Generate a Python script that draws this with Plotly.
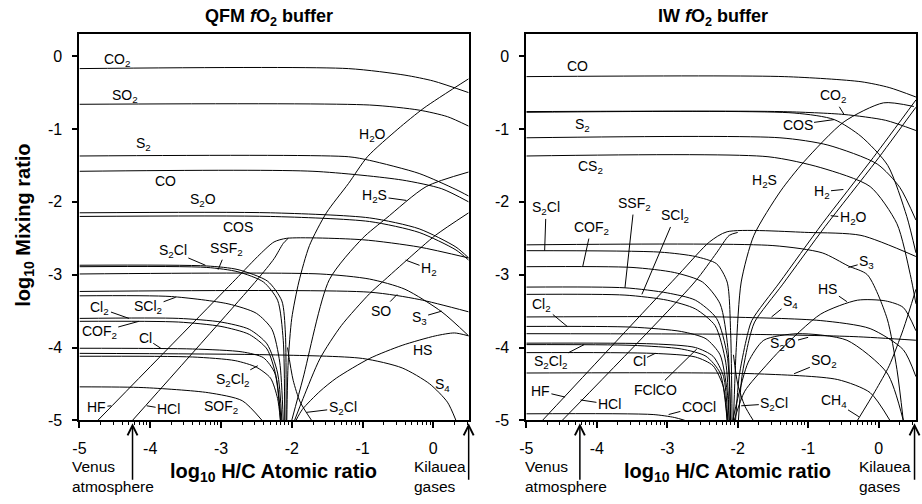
import math
import plotly.graph_objects as go

# ---------------- QFM panel curves (log10 H/C, log10 mixing ratio) ----------------
QFM_CO2 = [(-5, -0.17), (-1.2, -0.17), (-0.4, -0.26), (0, -0.34), (0.5, -0.5)]
QFM_SO2 = [(-5, -0.66), (-0.9, -0.67), (-0.2, -0.74), (0.2, -0.83), (0.5, -0.96)]
QFM_S2 = [(-5, -1.37), (-1.2, -1.38), (-0.9, -1.43), (-0.2, -1.61), (0.32, -1.83), (0.5, -1.92)]
QFM_CO = [(-5, -1.58), (-1.7, -1.58), (-0.44, -1.7), (0.12, -1.82), (0.5, -2.0)]
QFM_S2O = [(-5, -2.15), (-2.3, -2.15), (-0.9, -2.22), (-0.2, -2.37), (0.32, -2.62), (0.5, -2.77)]
QFM_COS = [(-5, -2.2), (-2.3, -2.2), (-0.9, -2.27), (-0.2, -2.42), (0.32, -2.66), (0.5, -2.8)]
QFM_HF = [(-4.74, -5), (-2.8, -3.07), (-2.45, -2.72), (-2.25, -2.55), (-2.07, -2.5), (-1.0, -2.52), (-0.2, -2.62), (0.5, -2.77)]
QFM_HCL = [(-4.25, -5), (-2.49, -3.07), (-2.25, -2.78), (-2.12, -2.57), (-2.05, -2.5)]
QFM_S3 = [(-5, -2.99), (-1.6, -2.99), (-0.9, -3.06), (-0.4, -3.2), (0.12, -3.51), (0.5, -3.84)]
QFM_SO = [(-5, -3.23), (-0.9, -3.24), (-0.2, -3.34), (0.5, -3.51)]
QFM_SCL2 = [(-5, -3.29), (-3.7, -3.3), (-2.9, -3.4), (-2.5, -3.53), (-2.28, -3.75), (-2.17, -4.2), (-2.12, -5)]
QFM_CL2 = [(-5, -3.6), (-3.6, -3.6), (-3.0, -3.65), (-2.6, -3.75), (-2.35, -3.95), (-2.2, -4.35), (-2.14, -5)]
QFM_COF2 = [(-5, -3.64), (-3.6, -3.65), (-3.0, -3.71), (-2.6, -3.82), (-2.35, -4.02), (-2.22, -4.4), (-2.15, -5)]
QFM_CL = [(-5, -4.01), (-3.4, -4.02), (-2.7, -4.06), (-2.4, -4.14), (-2.24, -4.35), (-2.16, -5)]
QFM_S4 = [(-5, -4.08), (-2.3, -4.1), (-1.0, -4.15), (-0.44, -4.28), (-0.05, -4.5), (0.2, -4.75), (0.32, -5)]
QFM_S2CL2 = [(-5, -4.12), (-3.4, -4.13), (-2.8, -4.18), (-2.5, -4.27), (-2.3, -4.42), (-2.2, -4.7), (-2.16, -5)]
QFM_SOF2 = [(-5, -4.54), (-4.1, -4.55), (-3.18, -4.62), (-2.7, -4.73), (-2.42, -5)]
QFM_S2CL = [(-5, -2.87), (-3.2, -2.88), (-2.76, -2.93), (-2.34, -3.09), (-2.14, -3.36), (-2.09, -3.8), (-2.08, -5)]
QFM_S2CL_B = [(-2.06, -4.0), (-1.98, -4.45), (-1.88, -4.75), (-1.72, -5)]
QFM_SSF2 = [(-5, -2.89), (-3.2, -2.9), (-2.76, -2.96), (-2.4, -3.1), (-2.2, -3.35), (-2.12, -3.9), (-2.1, -5)]
QFM_H2O = [(-2.07, -5), (-2.05, -4.2), (-2.0, -3.6), (-1.9, -3.1), (-1.75, -2.6), (-1.51, -2.15), (-1.2, -1.75),
           (-0.93, -1.38), (-0.5, -1.0), (-0.13, -0.71), (0.5, -0.31)]
QFM_H2S = [(-2.0, -5), (-1.84, -4.42), (-1.47, -3.07), (-1.0, -2.5), (-0.67, -2.23), (-0.1, -1.79), (0.5, -1.59)]
QFM_H2 = [(-1.96, -5), (-1.84, -4.7), (-1.6, -4.15), (-1.3, -3.7), (-0.9, -3.26), (-0.72, -3.1), (-0.34, -2.77),
          (0.03, -2.46), (0.5, -2.15)]
QFM_HS = [(-1.94, -5), (-1.85, -4.85), (-1.6, -4.6), (-1.37, -4.42), (-0.9, -4.15), (-0.44, -3.97), (0.03, -3.84),
          (0.3, -3.8), (0.5, -3.84)]

# ---------------- IW panel curves ----------------
IW_CO = [(-5, -0.28), (-1.34, -0.28), (-0.25, -0.35), (0.15, -0.43), (0.53, -0.56)]
IW_CO2 = [(-5, -0.76), (-1.4, -0.76), (-0.49, -0.8), (0.1, -0.88), (0.53, -1.02)]
IW_COS = [(-5, -0.77), (-1.2, -0.78), (-0.63, -0.87), (-0.25, -1.1), (0.13, -1.5), (0.4, -2.2), (0.53, -2.7)]
IW_S2 = [(-5, -1.12), (-1.4, -1.12), (-0.72, -1.22), (-0.02, -1.48), (0.3, -1.8), (0.53, -2.25)]
IW_CS2 = [(-5, -1.37), (-1.57, -1.38), (-0.82, -1.53), (-0.12, -1.79), (0.26, -2.3), (0.45, -3.0), (0.53, -3.4)]
IW_H2S = [(-2.06, -5), (-2.02, -4.0), (-1.95, -3.1), (-1.77, -2.46), (-1.39, -1.85), (-1.06, -1.45), (-0.49, -0.9),
          (0.07, -0.64), (0.5, -0.69)]
IW_H2 = [(-2.03, -5), (-1.98, -4.4), (-1.88, -3.9), (-1.8, -3.63), (-1.4, -3.1), (-0.8, -2.3), (-0.075, -1.39), (0.53, -0.6)]
IW_H2O = [(-1.99, -5), (-1.94, -4.4), (-1.84, -3.9), (-1.76, -3.65), (-1.36, -3.13), (-0.76, -2.34), (-0.035, -1.44), (0.53, -0.7)]
IW_HF = [(-4.77, -5), (-2.84, -3.0), (-2.4, -2.55), (-2.15, -2.41), (-1.0, -2.42), (-0.25, -2.46), (0.53, -2.75)]
IW_HCL = [(-4.49, -5), (-2.61, -3.1), (-2.3, -2.7), (-2.12, -2.46), (-2.0, -2.42)]
IW_S3 = [(-5, -2.59), (-1.5, -2.6), (-0.8, -2.7), (-0.43, -2.88), (-0.16, -3.0), (0.12, -3.6), (0.26, -4.3), (0.35, -5)]
IW_S2CL = [(-5, -2.67), (-3.1, -2.69), (-2.6, -2.75), (-2.3, -2.85), (-2.15, -3.1), (-2.1, -3.8), (-2.08, -5)]
IW_S2CL_B = [(-2.06, -4.1), (-2.0, -4.5), (-1.9, -4.8), (-1.78, -5)]
IW_COF2 = [(-5, -2.89), (-3.5, -2.9), (-2.9, -2.97), (-2.5, -3.1), (-2.25, -3.4), (-2.14, -4.0), (-2.1, -5)]
IW_SSF2 = [(-5, -3.17), (-3.6, -3.18), (-3.0, -3.25), (-2.6, -3.35), (-2.3, -3.6), (-2.15, -4.1), (-2.1, -5)]
IW_SCL2 = [(-5, -3.27), (-3.6, -3.28), (-3.0, -3.35), (-2.6, -3.47), (-2.32, -3.7), (-2.17, -4.2), (-2.12, -5)]
IW_S4 = [(-5, -3.58), (-2.23, -3.58), (-0.82, -3.63), (-0.12, -3.74), (0.35, -4.03), (0.53, -4.4)]
IW_CL2 = [(-5, -3.71), (-3.5, -3.72), (-2.8, -3.78), (-2.45, -3.88), (-2.25, -4.1), (-2.15, -4.6), (-2.12, -5)]
IW_X381 = [(-5, -3.81), (-1.76, -3.82), (-0.35, -3.85), (0.53, -3.9)]
IW_FCLCO = [(-5, -3.94), (-3.2, -3.95), (-2.6, -4.0), (-2.35, -4.12), (-2.2, -4.4), (-2.14, -5)]
IW_S2CL2 = [(-5, -3.96), (-3.5, -3.97), (-2.8, -4.02), (-2.45, -4.12), (-2.25, -4.35), (-2.15, -5)]
IW_CL = [(-5, -4.07), (-3.2, -4.08), (-2.6, -4.13), (-2.35, -4.25), (-2.2, -4.55), (-2.15, -5)]
IW_SO2 = [(-5, -4.35), (-1.76, -4.36), (-0.58, -4.44), (-0.12, -4.62), (0.16, -5)]
IW_COCL = [(-5, -4.91), (-3.2, -4.92), (-2.9, -4.96), (-2.75, -5)]
IW_HS = [(-2.05, -5), (-1.9, -4.6), (-1.6, -4.25), (-1.39, -4.03), (-0.82, -3.54), (-0.3, -3.35), (0.1, -3.36),
         (0.35, -3.45), (0.53, -3.77)]
IW_S2O = [(-2.07, -5), (-2.0, -4.7), (-1.85, -4.2), (-1.63, -3.9), (-1.15, -3.81), (-0.45, -3.9), (0.12, -4.35), (0.35, -5)]
IW_CH4 = [(-0.3, -5), (-0.05, -4.6), (0.15, -4.25), (0.35, -3.75), (0.53, -3.2)]

QFM_CURVES = [QFM_CO2, QFM_SO2, QFM_S2, QFM_CO, QFM_S2O, QFM_COS, QFM_HF, QFM_HCL, QFM_S3, QFM_SO,
              QFM_SCL2, QFM_CL2, QFM_COF2, QFM_CL, QFM_S4, QFM_S2CL2, QFM_SOF2, QFM_S2CL, QFM_S2CL_B,
              QFM_SSF2, QFM_H2O, QFM_H2S, QFM_H2, QFM_HS]
IW_CURVES = [IW_CO, IW_CO2, IW_COS, IW_S2, IW_CS2, IW_H2S, IW_H2, IW_H2O, IW_HF, IW_HCL, IW_S3, IW_S2CL,
             IW_S2CL_B, IW_COF2, IW_SSF2, IW_SCL2, IW_S4, IW_CL2, IW_X381, IW_FCLCO, IW_S2CL2, IW_CL,
             IW_SO2, IW_COCL, IW_HS, IW_S2O, IW_CH4]

# labels: (text, label x, label y, pointer target x, pointer target y)
QFM_LABELS = [
    ("CO<sub>2</sub>", -4.47, -0.05, None, None),
    ("SO<sub>2</sub>", -4.35, -0.54, None, None),
    ("S<sub>2</sub>", -4.09, -1.21, None, None),
    ("H<sub>2</sub>O", -0.86, -1.08, None, None),
    ("CO", -3.79, -1.72, None, None),
    ("S<sub>2</sub>O", -3.25, -1.98, None, None),
    ("COS", -2.76, -2.34, None, None),
    ("S<sub>2</sub>Cl", -3.68, -2.68, -3.22, -2.87),
    ("SSF<sub>2</sub>", -2.92, -2.65, -3.04, -2.93),
    ("H<sub>2</sub>S", -0.83, -1.92, -0.38, -1.98),
    ("H<sub>2</sub>", -0.06, -2.92, -0.39, -2.8),
    ("SO", -0.74, -3.5, -0.51, -3.27),
    ("S<sub>3</sub>", -0.2, -3.59, 0.12, -3.5),
    ("HS", -0.15, -4.03, None, None),
    ("S<sub>4</sub>", 0.13, -4.51, None, None),
    ("S<sub>2</sub>Cl", -1.28, -4.83, -1.79, -4.89),
    ("Cl<sub>2</sub>", -4.71, -3.46, -4.3, -3.6),
    ("SCl<sub>2</sub>", -4.03, -3.45, -3.64, -3.31),
    ("COF<sub>2</sub>", -4.72, -3.79, -4.16, -3.64),
    ("Cl", -4.07, -3.87, -3.85, -4.01),
    ("S<sub>2</sub>Cl<sub>2</sub>", -2.84, -4.44, -2.48, -4.25),
    ("HF", -4.76, -4.82, -4.55, -4.8),
    ("HCl", -3.74, -4.85, -4.05, -4.8),
    ("SOF<sub>2</sub>", -3.0, -4.81, None, None),
]
IW_LABELS = [
    ("CO", -4.27, -0.13, None, None),
    ("S<sub>2</sub>", -4.2, -0.94, None, None),
    ("CO<sub>2</sub>", -0.65, -0.55, -0.49, -0.8),
    ("COS", -1.15, -0.94, -0.63, -0.87),
    ("CS<sub>2</sub>", -4.09, -1.52, None, None),
    ("H<sub>2</sub>S", -1.62, -1.72, None, None),
    ("H<sub>2</sub>", -0.81, -1.86, -0.5, -1.83),
    ("H<sub>2</sub>O", -0.36, -2.22, -0.68, -2.19),
    ("S<sub>2</sub>Cl", -4.72, -2.09, -4.74, -2.67),
    ("COF<sub>2</sub>", -4.08, -2.36, -4.2, -2.89),
    ("SSF<sub>2</sub>", -3.47, -2.03, -3.6, -3.18),
    ("SCl<sub>2</sub>", -2.89, -2.2, -3.36, -3.27),
    ("S<sub>3</sub>", -0.17, -2.83, -0.43, -2.9),
    ("HS", -0.72, -3.19, -0.45, -3.37),
    ("S<sub>4</sub>", -1.25, -3.37, -1.52, -3.58),
    ("Cl<sub>2</sub>", -4.78, -3.42, -4.42, -3.71),
    ("S<sub>2</sub>Cl<sub>2</sub>", -4.66, -4.2, -4.18, -3.96),
    ("Cl", -3.4, -4.19, -3.17, -4.08),
    ("FClCO", -3.17, -4.58, -2.58, -4.02),
    ("COCl", -2.55, -4.81, -2.98, -4.92),
    ("HF", -4.8, -4.6, -4.45, -4.68),
    ("HCl", -3.82, -4.78, -4.23, -4.72),
    ("S<sub>2</sub>Cl", -1.48, -4.77, -1.95, -4.8),
    ("S<sub>2</sub>O", -1.35, -3.95, -1.0, -3.86),
    ("SO<sub>2</sub>", -0.77, -4.19, -1.2, -4.36),
    ("CH<sub>4</sub>", -0.64, -4.73, -0.28, -4.95),
]

MAJOR_X = [-5, -4, -3, -2, -1, 0]
MAJOR_Y = [0, -1, -2, -3, -4, -5]

FONT = "Liberation Sans, Arial, sans-serif"
LABEL_SIZE = 14

fig = go.Figure()


def add_curves(curves, xa, ya):
    for pts in curves:
        fig.add_trace(go.Scatter(
            x=[p[0] for p in pts], y=[p[1] for p in pts], mode="lines",
            line=dict(color="black", width=1, shape="spline", smoothing=0.7),
            xaxis=xa, yaxis=ya, showlegend=False, hoverinfo="skip"))


add_curves(QFM_CURVES, "x", "y")
add_curves(IW_CURVES, "x2", "y2")

anns = []


def add_labels(labels, xr, yr):
    for text, lx, ly, tx, ty in labels:
        if tx is None:
            anns.append(dict(text=text, x=lx, y=ly, xref=xr, yref=yr, showarrow=False,
                             xanchor="center", yanchor="middle",
                             font=dict(size=LABEL_SIZE, color="black", family=FONT)))
        else:
            anns.append(dict(text=text, x=tx, y=ty, ax=lx, ay=ly, xref=xr, yref=yr,
                             axref=xr, ayref=yr, showarrow=True, arrowhead=0, arrowwidth=1,
                             arrowcolor="black", standoff=0, startstandoff=0,
                             xanchor="center", yanchor="middle",
                             font=dict(size=LABEL_SIZE, color="black", family=FONT)))


add_labels(QFM_LABELS, "x", "y")
add_labels(IW_LABELS, "x2", "y2")

W, H = 922, 504
yd = [1 - 428 / H, 1 - 35 / H]
xd1 = [73 / W, 465.2 / W]
xd2 = [523.3 / W, 915.9 / W]


def paper_text(text, px, py, size, bold_angle=0, xanchor="center", align="center"):
    return dict(text=text, x=px / W, y=1 - py / H, xref="paper", yref="paper", showarrow=False,
                xanchor=xanchor, yanchor="middle", align=align, textangle=bold_angle,
                font=dict(size=size, family=FONT, color="black"))


# panel titles
anns.append(paper_text("<b>QFM <i>f</i>O<sub>2</sub> buffer</b>", 264, 18, 18))
anns.append(paper_text("<b>IW <i>f</i>O<sub>2</sub> buffer</b>", 711, 18, 18))
# axis titles
anns.append(paper_text("<b>log<sub>10</sub> H/C Atomic ratio</b>", 269, 481, 20))
anns.append(paper_text("<b>log<sub>10</sub> H/C Atomic ratio</b>", 726, 481, 20))
anns.append(paper_text("<b>log<sub>10</sub> Mixing ratio</b>", 18, 229, 20, bold_angle=-90))

# Venus / Kilauea markers
for xr, vx, kx, vtx, ktx in [("x", -4.25, 0.5, 63, 408), ("x2", -4.24, 0.51, 520, 857)]:
    for px in (vx, kx):
        anns.append(dict(x=px, y=1 - 431 / H, xref=xr, yref="paper", ax=0, ay=58, text="",
                         showarrow=True, arrowhead=5, arrowsize=1.3, arrowwidth=1.5, arrowcolor="black"))
    anns.append(paper_text("Venus<br>atmosphere", vtx, 485, 15.5, xanchor="left", align="left"))
    anns.append(paper_text("Kilauea<br>gases", ktx, 485, 15.5, xanchor="left", align="left"))


def minor_vals(hi):
    v = []
    for n in range(-5, 1):
        for k in range(2, 10):
            t = n + math.log10(k)
            if t <= hi:
                v.append(t)
    return v


def xaxis(domain, rng, anchor):
    return dict(domain=domain, range=rng, anchor=anchor, showgrid=False, zeroline=False,
                showline=True, linecolor="black", linewidth=2, mirror=True,
                tickmode="array", tickvals=MAJOR_X, ticktext=[str(v) for v in MAJOR_X],
                ticks="outside", ticklen=6, tickwidth=1.5, tickcolor="black",
                ticklabelstandoff=6,
                tickfont=dict(size=16, family=FONT, color="black"),
                minor=dict(tickmode="array", tickvals=minor_vals(rng[1]), ticks="outside",
                           ticklen=3, tickwidth=1, tickcolor="black"))


def yaxis(anchor):
    return dict(domain=yd, range=[-5, 0.3], anchor=anchor, showgrid=False, zeroline=False,
                showline=True, linecolor="black", linewidth=2, mirror=True,
                tickmode="array", tickvals=MAJOR_Y, ticktext=[str(v) for v in MAJOR_Y],
                ticks="outside", ticklen=5, tickwidth=1.5, tickcolor="black",
                ticklabelstandoff=7,
                tickfont=dict(size=16, family=FONT, color="black"))


fig.update_layout(
    width=W, height=H, margin=dict(l=0, r=0, t=0, b=0),
    paper_bgcolor="white", plot_bgcolor="white",
    xaxis=xaxis(xd1, [-5, 0.5], "y"),
    yaxis=yaxis("x"),
    xaxis2=xaxis(xd2, [-5, 0.53], "y2"),
    yaxis2=yaxis("x2"),
    annotations=anns,
)

fig.write_html("out.html")
